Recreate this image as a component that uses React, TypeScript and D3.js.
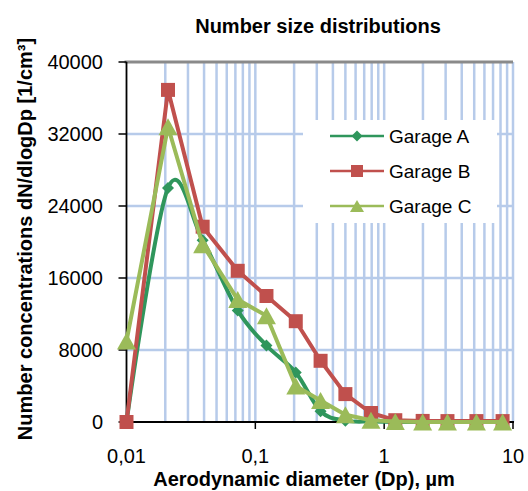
import React, { useEffect, useRef } from 'react'
import * as d3 from 'd3'

// particle diameters (µm) shared by every series
const diameters = [0.01, 0.021, 0.039, 0.073, 0.122, 0.206, 0.321, 0.5, 0.79, 1.22, 1.99, 3.1, 5.2, 8.3]
const garageA = [0, 26000, 20200, 12400, 8500, 5500, 1200, 150, 50, 0, 0, 0, 0, 0]
const garageB = [0, 36900, 21700, 16800, 14000, 11200, 6800, 3100, 1000, 200, 120, 100, 100, 100]
const garageC = [9000, 32800, 19700, 13600, 11800, 4000, 2400, 800, 200, 50, 0, 0, 0, 0]
const seriesNames = ['Garage A', 'Garage B', 'Garage C']
const yTicks = [0, 8000, 16000, 24000, 32000, 40000]
const xTicks = [0.01, 0.1, 1, 10]
const xTickLabels = ['0,01', '0,1', '1', '10']

const W = 528
const H = 491
const FONT = '"Liberation Sans", Arial, sans-serif'

function App () {
  const ref = useRef<SVGSVGElement>(null)

  useEffect(() => {
    const svg = d3.select(ref.current)
    svg.selectAll('*').remove()

    const left = 126.5
    const right = 513
    const top = 62
    const bottom = 422

    const x = d3.scaleLog().domain([0.01, 10]).range([left, right])
    const y = d3.scaleLinear().domain([0, 40000]).range([bottom, top])

    // grid
    const minor: number[] = []
    for (const dec of [0.01, 0.1, 1]) {
      for (let k = 1; k <= 9; k++) minor.push(dec * k)
    }
    minor.push(10)
    const grid = svg.append('g')
    grid.selectAll('line.v')
      .data(minor.filter(v => v > 0.0100001))
      .enter()
      .append('line')
      .attr('x1', d => x(d)).attr('x2', d => x(d))
      .attr('y1', top).attr('y2', bottom)
      .attr('stroke', '#b7cbea')
      .attr('stroke-width', 2.5)
    grid.selectAll('line.h')
      .data(yTicks.filter(v => v > 0 && v < 40000))
      .enter()
      .append('line')
      .attr('x1', left).attr('x2', right)
      .attr('y1', d => y(d)).attr('y2', d => y(d))
      .attr('stroke', '#b7cbea')
      .attr('stroke-width', 2.5)

    // top border
    svg.append('line')
      .attr('x1', left - 2).attr('x2', right)
      .attr('y1', top).attr('y2', top)
      .attr('stroke', '#8a8a8a')
      .attr('stroke-width', 3)

    // axes
    svg.append('line')
      .attr('x1', left).attr('x2', left)
      .attr('y1', top).attr('y2', bottom)
      .attr('stroke', '#000').attr('stroke-width', 1.8)
    svg.append('line')
      .attr('x1', left).attr('x2', right + 1)
      .attr('y1', bottom).attr('y2', bottom)
      .attr('stroke', '#000').attr('stroke-width', 1.8)

    const yAxis = svg.append('g')
    yAxis.selectAll('line')
      .data(yTicks)
      .enter()
      .append('line')
      .attr('x1', left - 8).attr('x2', left)
      .attr('y1', d => y(d)).attr('y2', d => y(d))
      .attr('stroke', '#000').attr('stroke-width', 1.5)
    yAxis.selectAll('text')
      .data(yTicks)
      .enter()
      .append('text')
      .attr('x', 103)
      .attr('y', d => y(d))
      .attr('dy', '0.36em')
      .attr('text-anchor', 'end')
      .style('font', `20px ${FONT}`)
      .text(d => d3.format('d')(d))

    const xAxis = svg.append('g')
    xAxis.selectAll('line')
      .data(xTicks)
      .enter()
      .append('line')
      .attr('x1', d => x(d)).attr('x2', d => x(d))
      .attr('y1', bottom).attr('y2', bottom + 7)
      .attr('stroke', '#000').attr('stroke-width', 1.5)
    xAxis.selectAll('text')
      .data(xTicks)
      .enter()
      .append('text')
      .attr('x', d => x(d))
      .attr('y', 463)
      .attr('text-anchor', 'middle')
      .style('font', `20px ${FONT}`)
      .text((d, i) => xTickLabels[i])

    // series
    const colors = ['#2f965c', '#c0504d', '#9bbb59']
    const values = [garageA, garageB, garageC]
    const pts = values.map(vals => diameters.map((d, i) => [x(d), y(vals[i])] as [number, number]))

    const diamond = (s: number) => `M0,${-s}L${s},0L0,${s}L${-s},0Z`
    const square = (s: number) => `M${-s},${-s}H${s}V${s}H${-s}Z`
    const triangle = (w: number, h: number) => `M0,${-h / 2}L${w / 2},${h / 2}L${-w / 2},${h / 2}Z`
    const markers = [diamond(6), square(7), triangle(19, 17)]
    const legendMarkers = [diamond(5.5), square(6), triangle(14, 12)]

    pts.forEach((p, si) => {
      const line = d3.line()
        .curve(si === 0 ? d3.curveCardinal.tension(0) : d3.curveLinear)
      svg.append('path')
        .attr('d', line(p))
        .attr('fill', 'none')
        .attr('stroke', colors[si])
        .attr('stroke-width', 4)
        .attr('stroke-linejoin', 'round')
      svg.append('g')
        .selectAll('path')
        .data(p)
        .enter()
        .append('path')
        .attr('transform', d => `translate(${d[0]},${d[1]})`)
        .attr('d', markers[si])
        .attr('fill', colors[si])
    })

    // legend
    const lg = svg.append('g')
    lg.append('rect')
      .attr('x', 303).attr('y', 120)
      .attr('width', 194).attr('height', 103)
      .attr('fill', '#fff')
    seriesNames.forEach((name, i) => {
      const ly = 136 + i * 35
      lg.append('line')
        .attr('x1', 330).attr('x2', 384)
        .attr('y1', ly).attr('y2', ly)
        .attr('stroke', colors[i]).attr('stroke-width', 2.5)
      lg.append('path')
        .attr('transform', `translate(357,${ly})`)
        .attr('d', legendMarkers[i])
        .attr('fill', colors[i])
      lg.append('text')
        .attr('x', 389).attr('y', ly)
        .attr('dy', '0.36em')
        .style('font', `19px ${FONT}`)
        .text(name)
    })

    // titles
    svg.append('text')
      .attr('x', 318).attr('y', 33)
      .attr('text-anchor', 'middle')
      .style('font', `bold 20px ${FONT}`)
      .text('Number size distributions')
    svg.append('text')
      .attr('x', 304).attr('y', 486)
      .attr('text-anchor', 'middle')
      .style('font', `bold 20px ${FONT}`)
      .text('Aerodynamic diameter (Dp), µm')
    svg.append('text')
      .attr('transform', 'translate(32,239) rotate(-90)')
      .attr('text-anchor', 'middle')
      .style('font', `bold 20px ${FONT}`)
      .text('Number concentrations dN/dlogDp [1/cm³]')
  }, [])

  return (
    <div style={{ position: 'absolute', left: 0, top: 0 }}>
      <svg ref={ref} width={W} height={H} style={{ display: 'block', background: '#fff' }} />
    </div>
  )
}

export default App
